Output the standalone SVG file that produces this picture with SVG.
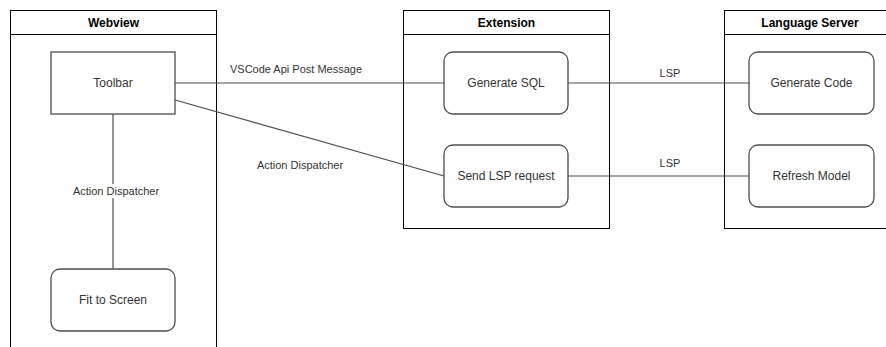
<svg xmlns="http://www.w3.org/2000/svg" width="886" height="347" viewBox="0 0 886 347">
<style>
.lane{fill:#fff;stroke:#000;stroke-width:1}
.hdr{font-family:"Liberation Sans",Arial,sans-serif;font-size:12px;font-weight:bold;fill:#000;text-anchor:middle}
.node{fill:#fff;stroke:#4d4d4d;stroke-width:1.3}
.txt{font-family:"Liberation Sans",Arial,sans-serif;font-size:12px;fill:#333;text-anchor:middle}
.lbl{font-family:"Liberation Sans",Arial,sans-serif;font-size:11px;fill:#333;text-anchor:middle}
.edge{fill:none;stroke:#4d4d4d;stroke-width:1.2}
</style>
<rect width="886" height="347" fill="#fff"/>
<g id="lane-webview">
<rect class="lane" x="10.5" y="10.5" width="206" height="360"/>
<line x1="10.5" y1="34.5" x2="216.5" y2="34.5" stroke="#000"/>
<text class="hdr" x="113.5" y="26.5">Webview</text>
</g>
<g id="lane-extension">
<rect class="lane" x="403.5" y="10.5" width="206" height="218"/>
<line x1="403.5" y1="34.5" x2="609.5" y2="34.5" stroke="#000"/>
<text class="hdr" x="506.5" y="26.5">Extension</text>
</g>
<g id="lane-language-server">
<rect class="lane" x="724.5" y="10.5" width="206" height="218"/>
<line x1="724.5" y1="34.5" x2="930.5" y2="34.5" stroke="#000"/>
<text class="hdr" x="810" y="26.5">Language Server</text>
</g>
<g id="connectors">
<line class="edge" x1="175" y1="83" x2="444" y2="83"/>
<line class="edge" x1="175" y1="100" x2="444" y2="176"/>
<line class="edge" x1="113" y1="114" x2="113" y2="269"/>
<line class="edge" x1="568" y1="83" x2="749" y2="83"/>
<line class="edge" x1="568" y1="176" x2="749" y2="176"/>
<rect x="70" y="184" width="92" height="14" fill="#fff"/>
<text class="lbl" x="116" y="195">Action Dispatcher</text>
<text class="lbl" x="296" y="73">VSCode Api Post Message</text>
<text class="lbl" x="300" y="169">Action Dispatcher</text>
<text class="lbl" x="670" y="77">LSP</text>
<text class="lbl" x="670" y="167">LSP</text>
</g>
<g id="node-toolbar">
<rect class="node" x="51" y="52" width="124" height="62"/>
<text class="txt" x="113" y="87">Toolbar</text>
</g>
<g id="node-fit-to-screen">
<rect class="node" x="51" y="269" width="124" height="62" rx="9"/>
<text class="txt" x="113" y="304">Fit to Screen</text>
</g>
<g id="node-generate-sql">
<rect class="node" x="444" y="52" width="124" height="62" rx="9"/>
<text class="txt" x="506" y="87">Generate SQL</text>
</g>
<g id="node-send-lsp-request">
<rect class="node" x="444" y="145" width="124" height="62" rx="9"/>
<text class="txt" x="506" y="180">Send LSP request</text>
</g>
<g id="node-generate-code">
<rect class="node" x="749" y="52" width="125" height="62" rx="9"/>
<text class="txt" x="811.5" y="87">Generate Code</text>
</g>
<g id="node-refresh-model">
<rect class="node" x="749" y="145" width="125" height="62" rx="9"/>
<text class="txt" x="811.5" y="180">Refresh Model</text>
</g>
</svg>
